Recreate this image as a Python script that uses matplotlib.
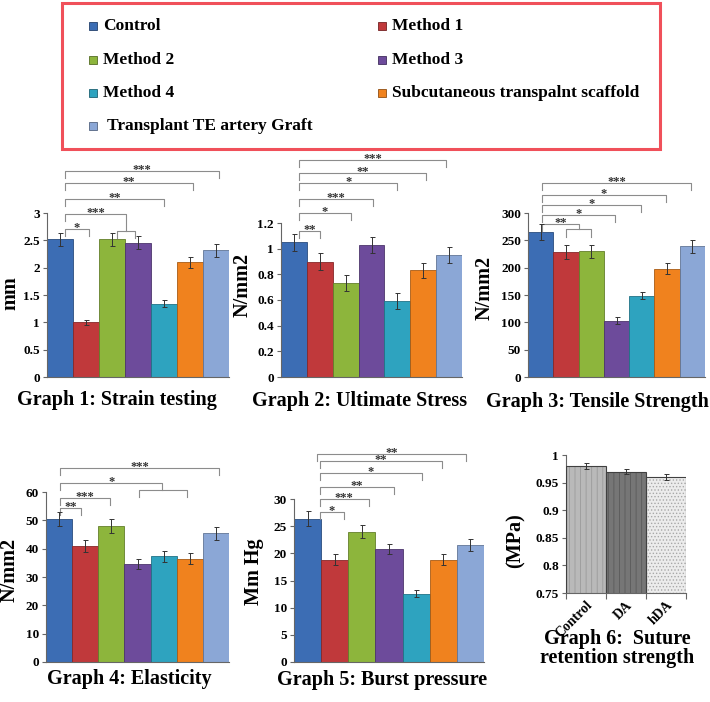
import numpy as np
import matplotlib
matplotlib.use("Agg")
import matplotlib.pyplot as plt
from matplotlib.patches import Rectangle
from matplotlib.lines import Line2D
from matplotlib.ticker import FuncFormatter

plt.rcParams['font.family'] = ['Liberation Serif', 'DejaVu Serif']
plt.rcParams['font.weight'] = 'bold'
plt.rcParams['hatch.linewidth'] = 0.6

W, H = 710, 702

# groups and colours
groups = ["Control", "Method 1", "Method 2", "Method 3", "Method 4",
          "Subcutaneous transpalnt scaffold", " Transplant TE artery Graft"]
colors = ["#3c6db4", "#c0393b", "#8db53c", "#6d4b9b", "#2ea3bf", "#f0821e", "#8ba7d6"]

# graph 1: strain testing (mm)
strain = [2.52, 1.00, 2.52, 2.46, 1.34, 2.10, 2.32]
strain_err = [0.12, 0.05, 0.12, 0.12, 0.06, 0.10, 0.12]
# graph 2: ultimate stress (N/mm2)
stress = [1.05, 0.90, 0.73, 1.03, 0.59, 0.83, 0.95]
stress_err = [0.065, 0.063, 0.063, 0.063, 0.062, 0.062, 0.062]
# graph 3: tensile strength (N/mm2)
tensile = [265, 228, 230, 103, 149, 198, 239]
tensile_err = [14, 13, 12, 6, 7, 10, 12]
# graph 4: elasticity (N/mm2)
elastic = [50.5, 41.0, 48.0, 34.5, 37.3, 36.5, 45.5]
elastic_err = [2.5, 2.2, 2.4, 1.8, 2.0, 1.8, 2.3]
# graph 5: burst pressure (Mm Hg)
burst = [26.4, 18.8, 24.0, 20.8, 12.6, 18.8, 21.6]
burst_err = [1.3, 1.0, 1.2, 1.0, 0.7, 1.0, 1.1]
# graph 6: suture retention strength (MPa)
suture_labels = ["Control", "DA", "hDA"]
suture = [0.98, 0.97, 0.96]
suture_err = [0.005, 0.005, 0.005]

# significance brackets: (start bar, end bar, height, label, bottom of right end)
brackets1 = [(0.2, 1.1, 2.71, "*", None), (2.2, 2.9, 2.67, "", None),
             (0.2, 2.55, 2.98, "***", 2.67), (0.2, 4.0, 3.25, "**", None),
             (0.2, 5.1, 3.55, "**", None), (0.2, 6.1, 3.77, "***", None)]
brackets2 = [(0.2, 1.0, 1.14, "**", None), (0.2, 2.2, 1.28, "*", None),
             (0.2, 3.05, 1.39, "***", None), (0.2, 4.0, 1.51, "*", None),
             (0.2, 5.1, 1.59, "**", None), (0.2, 5.9, 1.69, "***", None)]
brackets3 = [(1.0, 2.0, 270, "", None), (0.05, 1.5, 280, "**", 270),
             (0.05, 2.95, 296, "*", None), (0.05, 3.95, 314, "*", None),
             (0.05, 4.95, 333, "*", None), (0.05, 5.95, 355, "***", None)]
brackets4 = [(0.05, 0.85, 54.4, "**", None), (0.05, 1.95, 58.0, "***", None),
             (3.05, 4.9, 60.8, "", None), (0.05, 3.95, 63.2, "*", 60.8),
             (0.05, 6.1, 68.5, "***", None)]
brackets5 = [(0.45, 1.35, 27.6, "*", None), (0.45, 2.25, 30.0, "***", None),
             (0.45, 3.2, 32.2, "**", None), (0.45, 4.2, 34.8, "*", None),
             (0.45, 4.95, 37.0, "**", None), (0.35, 5.85, 38.3, "**", None)]


def px_axes(x0, y_top, x1, y_bot):
    return [x0 / W, 1 - y_bot / H, (x1 - x0) / W, (y_bot - y_top) / H]


def darker(c, f=0.7):
    r, g, b = matplotlib.colors.to_rgb(c)
    return (r * f, g * f, b * f)


fmt = FuncFormatter(lambda v, p: "%g" % v)

fig = plt.figure(figsize=(W / 100, H / 100), dpi=100)


def bar_graph(rect, vals, errs, ymax, step, brackets, drop):
    ax = fig.add_axes(rect)
    x = np.arange(len(vals))
    ax.bar(x, vals, width=1.0, color=colors, edgecolor=[darker(c) for c in colors],
           linewidth=0.6, zorder=2)
    ax.errorbar(x, vals, yerr=errs, fmt='none', ecolor='#333333', elinewidth=0.7,
                capsize=1.8, capthick=0.7, zorder=3)
    ax.set_xlim(-0.5, len(vals) - 0.5)
    ax.set_ylim(0, ymax)
    ax.set_yticks(np.arange(0, ymax + step / 2, step))
    ax.yaxis.set_major_formatter(fmt)
    ax.set_xticks([])
    for s in ['top', 'right']:
        ax.spines[s].set_visible(False)
    for s in ['left', 'bottom']:
        ax.spines[s].set_color('#666666')
        ax.spines[s].set_linewidth(0.8)
    ax.tick_params(axis='y', length=3, width=0.8, color='#666666', labelsize=9.5, pad=2)
    for x1, x2, y, label, y2 in brackets:
        if y2 is None:
            y2 = y - drop
        ax.plot([x1, x1, x2, x2], [y - drop, y, y, y2], color='#8c8c8c', lw=0.8,
                clip_on=False)
        if label:
            ax.annotate(label, ((x1 + x2) / 2, y), xytext=(0, -1.5), textcoords='offset points',
                        ha='center', va='baseline', fontsize=9, color='#333333',
                        annotation_clip=False)
    return ax


bar_graph(px_axes(47, 213, 229, 377), strain, strain_err, 3, 0.5, brackets1, 0.13)
bar_graph(px_axes(281, 223, 462, 377), stress, stress_err, 1.2, 0.2, brackets2, 0.055)
bar_graph(px_axes(528, 213, 705, 377), tensile, tensile_err, 300, 50, brackets3, 13)
bar_graph(px_axes(46, 492, 229, 662), elastic, elastic_err, 60, 10, brackets4, 2.5)
bar_graph(px_axes(294, 499, 484, 662), burst, burst_err, 30, 5, brackets5, 1.3)

# graph 6
ax6 = fig.add_axes(px_axes(566, 455, 686, 593))
x6 = np.arange(len(suture))
fills = ["#b9b9b9", "#767676", "#ececec"]
hatch_cols = ["#9a9a9a", "#5a5a5a", "#a8a8a8"]
hatches = ["|||", "|||", "....."]
for i in range(len(suture)):
    ax6.bar(x6[i], suture[i], width=1.0, color=fills[i], edgecolor=hatch_cols[i],
            hatch=hatches[i], linewidth=0, zorder=2)
ax6.bar(x6, suture, width=1.0, fill=False, edgecolor='#404040', linewidth=0.8, zorder=3)
ax6.errorbar(x6, suture, yerr=suture_err, fmt='none', ecolor='#333333', elinewidth=0.7,
             capsize=1.8, capthick=0.7, zorder=4)
ax6.set_xlim(-0.5, 2.5)
ax6.set_ylim(0.75, 1.0)
ax6.set_yticks(np.arange(0.75, 1.001, 0.05))
ax6.yaxis.set_major_formatter(fmt)
ax6.set_xticks(x6)
ax6.set_xticklabels(suture_labels, rotation=45, ha='right', rotation_mode='anchor',
                    fontsize=10)
ax6.set_xticks([-0.5, 0.5, 1.5, 2.5], minor=True)
ax6.tick_params(axis='x', which='major', length=0, pad=4)
ax6.tick_params(axis='x', which='minor', length=4, width=0.8, color='#666666')
ax6.tick_params(axis='y', length=3, width=0.8, color='#666666', labelsize=9.5, pad=2)
for s in ['top', 'right']:
    ax6.spines[s].set_visible(False)
for s in ['left', 'bottom']:
    ax6.spines[s].set_color('#666666')
    ax6.spines[s].set_linewidth(0.8)

# y labels
ylabels = [("mm", 10, 293), ("N/mm2", 243, 285), ("N/mm2", 485, 288),
           ("N/mm2", 9.5, 570), ("Mm Hg", 254, 572), ("(MPa)", 516, 541)]
for t, x, y in ylabels:
    fig.text(x / W, 1 - y / H, t, rotation=90, ha='center', va='center', fontsize=14.5)

# titles
titles = [("Graph 1: Strain testing", 117, 400), ("Graph 2: Ultimate Stress", 360, 401),
          ("Graph 3: Tensile Strength", 597, 402), ("Graph 4: Elasticity", 129, 679),
          ("Graph 5: Burst pressure", 382, 680), ("Graph 6:  Suture", 617, 639),
          ("retention strength", 617, 658)]
for t, x, y in titles:
    fig.text(x / W, 1 - y / H, t, ha='center', va='center', fontsize=14.5)

# legend box
fig.add_artist(Rectangle((62 / W, 1 - 149 / H), (660 - 62) / W, (149 - 3) / H,
                         transform=fig.transFigure, fill=False, edgecolor='#f0505a',
                         linewidth=2.2))
leg_pos = [(93, 26), (382, 26), (93, 60), (382, 60), (93, 93), (382, 93), (93, 126)]
for (mx, my), name, c in zip(leg_pos, groups, colors):
    fig.add_artist(Line2D([mx / W], [1 - my / H], transform=fig.transFigure, marker='s',
                          markersize=5.5, markerfacecolor=c, markeredgecolor=darker(c, 0.6),
                          markeredgewidth=0.6, linestyle='none'))
    fig.text((mx + 10) / W, 1 - my / H, name, ha='left', va='center', fontsize=12.5)

fig.savefig("out.png", dpi=100)
